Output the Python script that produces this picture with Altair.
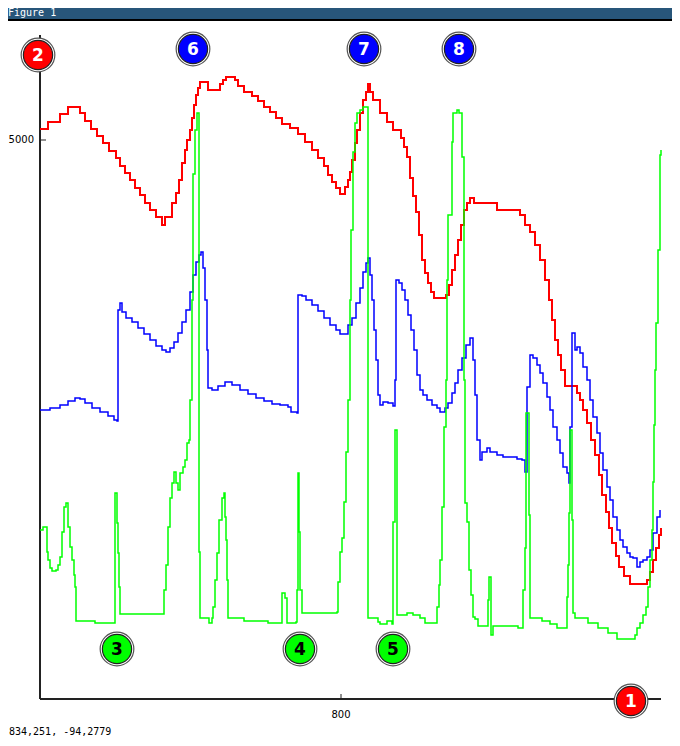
import altair as alt
import pandas as pd

# ---------------- data (plot units) ----------------
red_x = [499, 507, 519, 527, 539, 544, 550, 556, 562, 568, 575, 579, 584, 589, 594, 599, 604, 609, 615, 621,
         624, 631, 635, 638, 641, 644, 646, 649, 651, 653, 655, 657, 659, 667, 679, 682, 685, 694, 697, 703,
         711, 717, 723, 729, 735, 741, 749, 757, 764, 771, 777, 783, 787, 791, 795, 799, 804, 807, 809, 811,
         814, 816, 819, 822, 825, 827, 829, 832, 839, 846, 852, 860, 863, 866, 869, 872, 875, 878, 881, 884,
         887, 890, 893, 905, 908, 911, 914, 917, 920, 923, 926, 929, 933, 956, 979, 984, 989, 994, 999, 1004,
         1008, 1011, 1014, 1017, 1020, 1024, 1036, 1039, 1042, 1046, 1050, 1054, 1058, 1061, 1065, 1068, 1071,
         1075, 1078, 1083, 1089, 1106, 1109, 1112, 1115, 1118, 1120]
red_y = [5110, 5180, 5260, 5330, 5270, 5190, 5110, 5040, 4970, 4890, 4820, 4740, 4670, 4600, 4520, 4450, 4370, 4300, 4230, 4150,
         4230, 4370, 4470, 4600, 4770, 4900, 5000, 5100, 5220, 5350, 5450, 5520, 5580, 5500, 5560, 5600, 5630, 5600, 5540, 5480,
         5440, 5390, 5330, 5280, 5220, 5160, 5120, 5060, 4980, 4900, 4820, 4740, 4650, 4580, 4520, 4460, 4530, 4600, 4680, 4800,
         4970, 5100, 5270, 5400, 5480, 5560, 5480, 5400, 5270, 5180, 5100, 5020, 4930, 4830, 4620, 4440, 4280, 4050, 3800, 3670,
         3570, 3480, 3420, 3450, 3550, 3700, 3850, 4000, 4150, 4300, 4370, 4420, 4370, 4300, 4250, 4150, 4080, 3950, 3800, 3600,
         3400, 3200, 3000, 2850, 2700, 2540, 2470, 2400, 2300, 2170, 2000, 1850, 1650, 1450, 1280, 1120, 970,
         840, 730, 640, 560, 600, 680, 800, 920, 1050, 1120]

blue_x = [499, 509, 519, 527, 534, 539, 544, 551, 559, 567, 573, 576, 577, 579, 581, 585, 591, 597, 603, 609,
          615, 621, 625, 629, 633, 637, 641, 645, 649, 652, 655, 658, 660, 662, 664, 666, 667, 671, 677, 684,
          691, 699, 707, 715, 723, 731, 739, 747, 750, 756, 757, 761, 765, 771, 777, 783, 789, 795, 799, 803,
          807, 811, 815, 819, 822, 825, 827, 829, 831, 833, 835, 837, 839, 842, 847, 852, 854, 855, 858, 861,
          864, 867, 870, 873, 876, 879, 882, 886, 891, 896, 899, 904, 907, 911, 914, 917, 921, 925, 929, 932,
          934, 936, 939, 941, 946, 949, 956, 962, 969, 976, 981, 984, 986, 989, 992, 996, 999, 1002, 1006, 1009,
          1012, 1016, 1019, 1022, 1026, 1028, 1029, 1031, 1034, 1036, 1039, 1042, 1046, 1049, 1052, 1056, 1059,
          1062, 1066, 1069, 1072, 1076, 1079, 1082, 1086, 1089, 1092, 1096, 1099, 1102, 1106, 1109, 1112, 1116, 1119]
blue_y = [2300, 2320, 2350, 2390, 2420, 2410, 2370, 2320, 2280, 2240, 2200, 2190, 3300, 3370, 3280, 3220, 3180, 3120, 3060, 3000,
          2940, 2900, 2880, 2920, 2980, 3070, 3180, 3300, 3480, 3650, 3780, 3850, 3880, 3720, 3400, 2900, 2520, 2500, 2540, 2580,
          2550, 2500, 2460, 2420, 2390, 2360, 2350, 2330, 2280, 2270, 3450, 3440, 3400, 3350, 3290, 3220, 3150, 3100, 3060, 3060,
          3150, 3220, 3370, 3520, 3680, 3770, 3820, 3650, 3400, 3100, 2800, 2450, 2350, 2380, 2370, 2340, 2600, 3600, 3570, 3500,
          3400, 3250, 3100, 2900, 2650, 2500, 2450, 2400, 2350, 2320, 2280, 2320, 2370, 2470, 2570, 2700, 2820, 2950, 3020, 2800,
          2450, 2000, 1800, 1880, 1920, 1880, 1850, 1830, 1830, 1810, 1800, 1680, 2530, 2850, 2820, 2750, 2670, 2570, 2430, 2300,
          2130, 2000, 1870, 1730, 1670, 1570, 2130, 3070, 2900, 2930, 2870, 2730, 2600, 2400, 2230, 2070, 1870,
          1700, 1530, 1400, 1230, 1100, 1000, 930, 870, 830, 820, 730, 780, 800, 830, 900, 1070, 1230, 1300]

green_x = [499, 502, 506, 507, 509, 511, 515, 517, 519, 521, 523, 525, 527, 529, 531, 533, 534, 535, 554, 573,
           574, 576, 577, 578, 579, 622, 623, 625, 627, 629, 631, 633, 635, 637, 639, 642, 644, 646, 648, 649,
           651, 652, 654, 656, 658, 659, 668, 671, 672, 674, 676, 678, 681, 683, 684, 685, 686, 687, 703, 727,
           741, 744, 746, 755, 756, 757, 758, 759, 761, 796, 797, 799, 801, 803, 805, 807, 809, 810, 812, 814,
           816, 819, 822, 827, 837, 839, 846, 851, 852, 854, 856, 866, 872, 879, 884, 896, 898, 899, 901, 903,
           905, 906, 907, 911, 912, 916, 918, 921, 923, 924, 926, 928, 930, 932, 934, 937, 947, 948, 950, 952,
           977, 982, 984, 985, 988, 989, 1001, 1009, 1016, 1026, 1027, 1028, 1029, 1031, 1032, 1034, 1047, 1057,
           1067, 1076, 1094, 1096, 1099, 1102, 1105, 1107, 1109, 1111, 1112, 1113, 1114, 1115, 1117, 1119, 1120]
green_y = [1100, 1130, 880, 800, 720, 690, 700, 750, 830, 1080, 1330, 1370, 1130, 930, 800, 650, 530, 190, 170, 170,
           1470, 1170, 870, 530, 260, 260, 500, 750, 1130, 1420, 1570, 1680, 1570, 1500, 1670, 1730, 1800, 1970, 2000, 2400,
           3400, 4660, 5100, 5270, 880, 220, 170, 220, 330, 600, 870, 1200, 1420, 1470, 1230, 1000, 600, 220, 190, 170,
           470, 420, 170, 180, 500, 1670, 1080, 500, 270, 280, 580, 880, 1020, 1380, 1880, 2400, 3400, 4100, 4880, 5170,
           5270, 5300, 5330, 220, 180, 160, 190, 160, 1180, 2100, 250, 270, 250, 220, 170, 330, 550, 800, 1330, 2130,
           2600, 3600, 4250, 4980, 5270, 5300, 5270, 4830, 2600, 1370, 1180, 700, 450, 230, 210, 140, 400, 630, 50, 140,
           120, 500, 920, 2270, 1250, 220, 190, 160, 120, 430, 750, 1270, 2100, 1200, 270, 220, 170, 120,
           70, 10, 50, 120, 170, 250, 330, 530, 800, 1100, 1580, 2150, 2700, 3170, 3900, 4850, 4900]

x_ticks = [800]
y_ticks = [5000]
x_axis_span = [499, 1120]
y_axis_span = [-590, 6050]

marker_label = ["2", "6", "7", "8", "3", "4", "5", "1"]
marker_series = ["red", "blue", "blue", "blue", "green", "green", "green", "red"]
marker_x = [497, 652, 823, 918, 576, 759, 852, 1090]
marker_y = [5850, 5910, 5910, 5910, -90, -90, -90, -610]

window_title = "Figure 1"
status_text = "834,251, -94,2779"

# ---------------- chart ----------------
W, H = 664, 730
xs = alt.Scale(domain=[467, 1131], nice=False, zero=False)
ys = alt.Scale(domain=[-980, 6320], nice=False, zero=False)
series_dom = ["red", "blue", "green"]
fill_scale = alt.Scale(domain=series_dom, range=["#ff0000", "#0000ff", "#00ff00"])
txt_scale = alt.Scale(domain=series_dom, range=["#ffffff", "#ffffff", "#000000"])

one = pd.DataFrame({"k": [0]})

def X(f):
    return alt.X(f, scale=xs, axis=None)

def Y(f):
    return alt.Y(f, scale=ys, axis=None)

def line_layer(xv, yv, color, width):
    df = pd.DataFrame({"x": xv, "y": yv, "i": list(range(len(xv)))})
    return alt.Chart(df).mark_line(color=color, strokeWidth=width, interpolate="step-after").encode(
        x=X("x:Q"), y=Y("y:Q"), order="i:Q")

titlebar = alt.Chart(one).mark_rect(color="#28567a").encode(
    x=alt.value(0), x2=alt.value(W), y=alt.value(0), y2=alt.value(11))
titleline = alt.Chart(one).mark_rect(color="#000000").encode(
    x=alt.value(0), x2=alt.value(W), y=alt.value(11), y2=alt.value(13))
title_txt = alt.Chart(one).mark_text(align="left", baseline="middle", font="DejaVu Sans Mono",
                                      fontSize=10, color="#ffffff").encode(
    x=alt.value(0), y=alt.value(5), text=alt.value(window_title))
status_txt = alt.Chart(one).mark_text(align="left", baseline="bottom", font="DejaVu Sans Mono",
                                       fontSize=10, color="#000000").encode(
    x=alt.value(1), y=alt.value(729), text=alt.value(status_text))

axes_df = pd.DataFrame({
    "x": [x_axis_span[0], x_axis_span[0]],
    "x2": [x_axis_span[0], x_axis_span[1]],
    "y": [y_axis_span[0], y_axis_span[0]],
    "y2": [y_axis_span[1], y_axis_span[0]],
})
axes = alt.Chart(axes_df).mark_rule(color="#222222", strokeWidth=2).encode(
    x=X("x:Q"), x2="x2:Q", y=Y("y:Q"), y2="y2:Q")

xt_df = pd.DataFrame({"x": x_ticks, "y": [y_axis_span[0]] * len(x_ticks),
                      "y2": [y_axis_span[0] + 50] * len(x_ticks),
                      "lab": [str(v) for v in x_ticks]})
xticks = alt.Chart(xt_df).mark_rule(color="#222222", strokeWidth=1).encode(
    x=X("x:Q"), y=Y("y:Q"), y2="y2:Q")
xlabels = alt.Chart(xt_df).mark_text(baseline="middle", align="center", dy=16, fontSize=10,
                                     font="DejaVu Sans", color="#000000").encode(
    x=X("x:Q"), y=Y("y:Q"), text="lab:N")

yt_df = pd.DataFrame({"y": y_ticks, "x": [x_axis_span[0]] * len(y_ticks),
                      "x2": [x_axis_span[0] + 6] * len(y_ticks),
                      "lab": [str(v) for v in y_ticks]})
yticks = alt.Chart(yt_df).mark_rule(color="#222222", strokeWidth=1).encode(
    x=X("x:Q"), x2="x2:Q", y=Y("y:Q"))
ylabels = alt.Chart(yt_df).mark_text(baseline="middle", align="right", dx=-6, fontSize=10,
                                     font="DejaVu Sans", color="#000000").encode(
    x=X("x:Q"), y=Y("y:Q"), text="lab:N")

mk_df = pd.DataFrame({"x": marker_x, "y": marker_y, "lab": marker_label, "s": marker_series})
mk_outer = alt.Chart(mk_df).mark_circle(size=1134, opacity=1, color="#ffffff", stroke="#555555",
                                        strokeWidth=1.2).encode(x=X("x:Q"), y=Y("y:Q"))
mk_inner = alt.Chart(mk_df).mark_circle(size=855, opacity=1, stroke="#222222", strokeWidth=1.2).encode(
    x=X("x:Q"), y=Y("y:Q"), color=alt.Color("s:N", scale=fill_scale, legend=None))
mk_text = alt.Chart(mk_df).mark_text(fontSize=17, fontWeight="bold", font="DejaVu Sans",
                                     baseline="middle", align="center", dy=1).encode(
    x=X("x:Q"), y=Y("y:Q"), text="lab:N",
    color=alt.Color("s:N", scale=txt_scale, legend=None))

chart = alt.layer(
    titlebar, titleline, title_txt, status_txt,
    axes, xticks, yticks, xlabels, ylabels,
    line_layer(red_x, red_y, "#ff0000", 2),
    line_layer(blue_x, blue_y, "#0000ff", 1.5),
    line_layer(green_x, green_y, "#00ff00", 1.5),
    mk_outer, mk_inner, mk_text,
).resolve_scale(color="independent").properties(
    width=W, height=H, autosize=alt.AutoSizeParams(type="none"), padding=0,
    background="#ffffff"
).configure_view(strokeWidth=0)

chart.save("out.html", embed_options={"renderer": "svg", "actions": False})
